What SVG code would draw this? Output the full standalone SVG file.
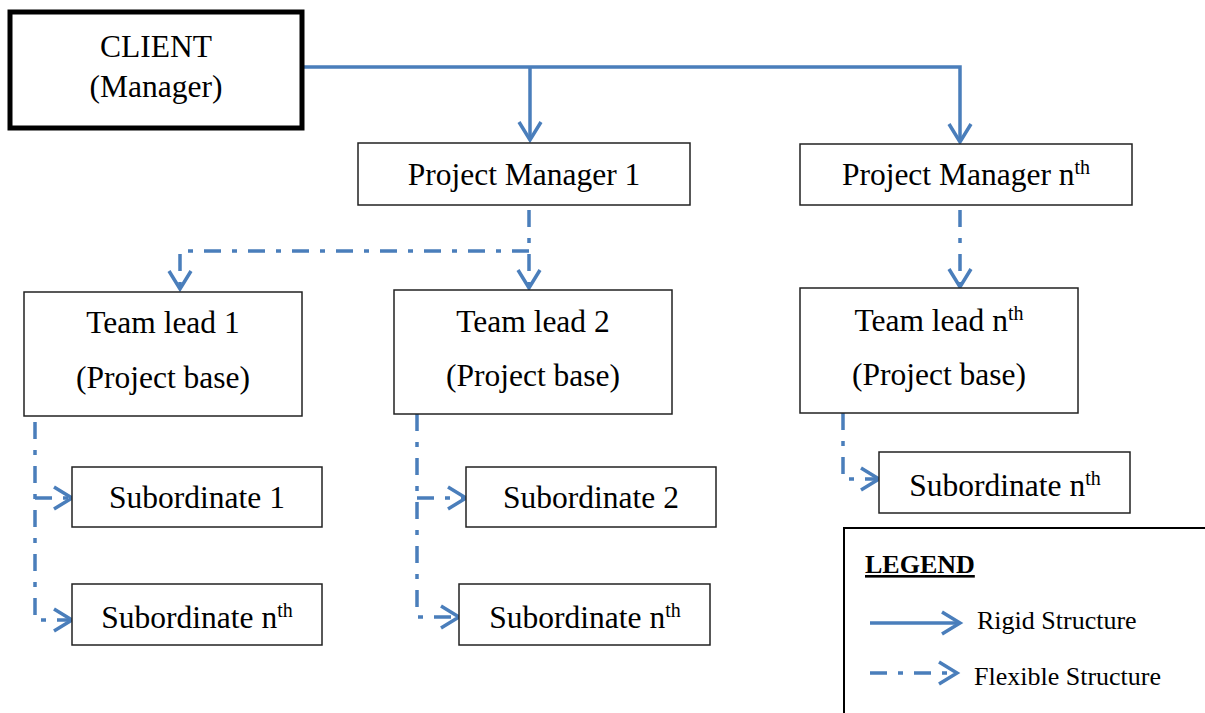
<svg xmlns="http://www.w3.org/2000/svg" width="1205" height="713" viewBox="0 0 1205 713">
  <defs>
    <marker id="chev" markerUnits="userSpaceOnUse" markerWidth="24" markerHeight="26" viewBox="0 0 24 26" refX="20" refY="13" orient="auto">
      <path d="M2,2 L20,13 L2,24" fill="none" stroke="#4a7ebb" stroke-width="3.5" stroke-linejoin="miter"/>
    </marker>
    <style>
      .box { fill: #fff; stroke: #222; stroke-width: 1.5; }
      .client { fill: #fff; stroke: #000; stroke-width: 5; }
      .t { font-family: "Liberation Serif", "Times New Roman", serif; font-size: 31.5px; fill: #000; text-anchor: middle; }
      .sup { font-size: 20px; }
      .rigid { fill: none; stroke: #4a7ebb; stroke-width: 3.5; }
      .flex { fill: none; stroke: #4a7ebb; stroke-width: 3.5; stroke-dasharray: 17 11 5 11; }
      .leg { font-family: "Liberation Serif", "Times New Roman", serif; font-size: 26px; fill: #000; }
    </style>
  </defs>

  <!-- connectors -->
  <g id="connectors">
    <path class="rigid" d="M302,67 H960 V142" marker-end="url(#chev)"/>
    <path class="rigid" d="M530,67 V140" marker-end="url(#chev)"/>
    <path class="flex" d="M529,210 V288" marker-end="url(#chev)"/>
    <path class="flex" d="M529,251 H180 V289" marker-end="url(#chev)"/>
    <path class="flex" d="M960,210 V287" marker-end="url(#chev)"/>
    <path class="flex" d="M35,422 V620 H72" marker-end="url(#chev)"/>
    <path class="flex" d="M35,498 H72" marker-end="url(#chev)"/>
    <path class="flex" d="M417,414 V617 H459" marker-end="url(#chev)"/>
    <path class="flex" d="M417,498 H466" marker-end="url(#chev)"/>
    <path class="flex" d="M843,413 V479 H879" marker-end="url(#chev)"/>
  </g>

  <g id="client">
    <rect class="client" x="10" y="12" width="292" height="116"/>
    <text class="t" x="156" y="57">CLIENT</text>
    <text class="t" x="156" y="97">(Manager)</text>
  </g>

  <g id="pm1">
    <rect class="box" x="358" y="143" width="332" height="62"/>
    <text class="t" x="524" y="185">Project Manager 1</text>
  </g>

  <g id="pmn">
    <rect class="box" x="800" y="144" width="332" height="61"/>
    <text class="t" x="966" y="185">Project Manager n<tspan class="sup" dy="-11">th</tspan></text>
  </g>

  <g id="tl1">
    <rect class="box" x="24" y="292" width="278" height="124"/>
    <text class="t" x="163" y="333">Team lead 1</text>
    <text class="t" x="163" y="388">(Project base)</text>
  </g>

  <g id="tl2">
    <rect class="box" x="394" y="290" width="278" height="124"/>
    <text class="t" x="533" y="332">Team lead 2</text>
    <text class="t" x="533" y="386">(Project base)</text>
  </g>

  <g id="tln">
    <rect class="box" x="800" y="288" width="278" height="125"/>
    <text class="t" x="939" y="331">Team lead n<tspan class="sup" dy="-11">th</tspan></text>
    <text class="t" x="939" y="385">(Project base)</text>
  </g>

  <g id="sub1">
    <rect class="box" x="72" y="467" width="250" height="60"/>
    <text class="t" x="197" y="508">Subordinate 1</text>
  </g>

  <g id="sub1n">
    <rect class="box" x="72" y="584" width="250" height="61"/>
    <text class="t" x="197" y="628">Subordinate n<tspan class="sup" dy="-11">th</tspan></text>
  </g>

  <g id="sub2">
    <rect class="box" x="466" y="467" width="250" height="60"/>
    <text class="t" x="591" y="508">Subordinate 2</text>
  </g>

  <g id="sub2n">
    <rect class="box" x="459" y="584" width="251" height="61"/>
    <text class="t" x="585" y="628">Subordinate n<tspan class="sup" dy="-11">th</tspan></text>
  </g>

  <g id="subn">
    <rect class="box" x="879" y="452" width="251" height="61"/>
    <text class="t" x="1005" y="496">Subordinate n<tspan class="sup" dy="-11">th</tspan></text>
  </g>

  <g id="legend">
    <rect x="844" y="528" width="400" height="300" fill="#fff" stroke="#000" stroke-width="2"/>
    <text class="leg" x="865" y="573" font-size="24" font-weight="bold" text-decoration="underline">LEGEND</text>
    <path class="rigid" d="M870,623 H960" marker-end="url(#chev)"/>
    <text class="leg" x="977" y="629">Rigid Structure</text>
    <path class="flex" d="M870,673 H957" marker-end="url(#chev)"/>
    <text class="leg" x="974" y="685">Flexible Structure</text>
  </g>
</svg>
